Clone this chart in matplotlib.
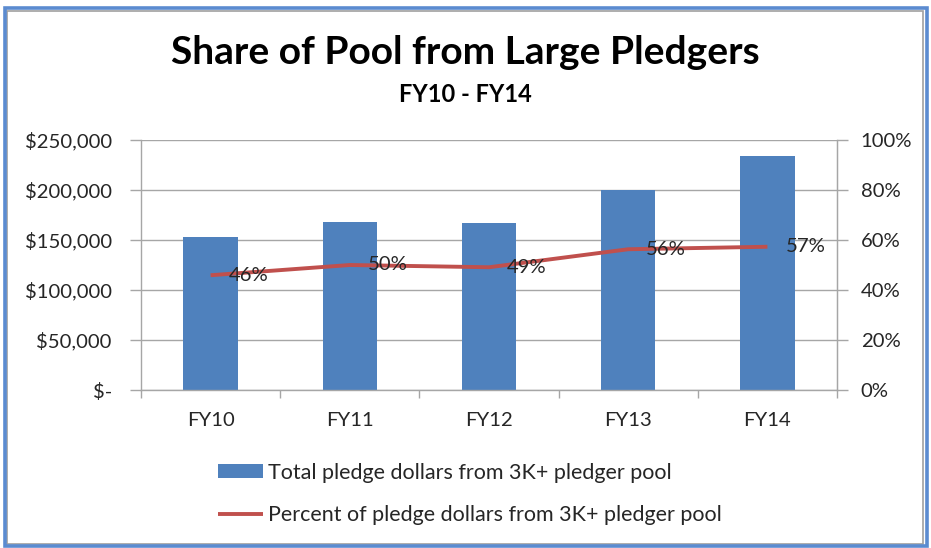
import matplotlib
matplotlib.use("Agg")
import matplotlib.pyplot as plt
from matplotlib.patches import Rectangle
from matplotlib.ticker import FuncFormatter, MultipleLocator

categories = ["FY10", "FY11", "FY12", "FY13", "FY14"]
total_dollars = [153300, 168300, 166700, 200000, 234300]
percent_share = [45.9, 50.0, 49.1, 56.3, 57.3]
percent_labels = ["46%", "50%", "49%", "56%", "57%"]
bar_label = "Total pledge dollars from 3K+ pledger pool"
line_label = "Percent of pledge dollars from 3K+ pledger pool"
title = "Share of Pool from Large Pledgers"
subtitle = "FY10 - FY14"

FONT = "Lato"
plt.rcParams['font.family'] = [FONT, 'DejaVu Sans']
TXT = "#262626"
GRID = "#a6a6a6"
BLUE = "#4F81BD"
RED = "#C0504D"
FS = 14.6
LFS = 15.5

fig = plt.figure(figsize=(9.31, 5.48), dpi=100)
fig.patch.set_facecolor("white")

# frame
fig.add_artist(Rectangle((7/931, 4/548), (923-7)/931, (540-7)/548, transform=fig.transFigure,
                         fill=False, edgecolor="#a0a0a0", linewidth=1.2))
fig.add_artist(Rectangle((4.5/931, 2.5/548), (926.5-4.5)/931, (543-5)/548, transform=fig.transFigure,
                         fill=False, edgecolor="#5b8bd0", linewidth=2.6))

ax = fig.add_axes([141/931, 1-390/548, (837-141)/931, (390-140)/548])
x = list(range(len(categories)))
ax.bar(x, total_dollars, width=0.39, color=BLUE, zorder=2, label=bar_label)
ax.set_xlim(-0.5, len(categories) - 0.5)
ax.set_ylim(0, 250000)
ax.yaxis.set_major_locator(MultipleLocator(50000))
ax.yaxis.set_major_formatter(FuncFormatter(lambda v, p: "$-" if v == 0 else "${:,.0f}".format(v)))
ax.set_xticks(x)
ax.set_xticklabels(categories)
ax.set_xticks([i - 0.5 for i in range(len(categories) + 1)], minor=True)
ax.tick_params(axis="x", which="major", length=0, pad=16, labelsize=FS, labelcolor=TXT)
ax.tick_params(axis="x", which="minor", length=6, width=1, color=GRID, direction="out")
ax.tick_params(axis="y", length=8, width=1, color=GRID, pad=13, labelsize=FS, labelcolor=TXT)
ax.grid(axis="y", color=GRID, linewidth=1, zorder=0)
ax.set_axisbelow(True)
ax.spines["top"].set_visible(False)
for s in ["left", "bottom", "right"]:
    ax.spines[s].set_color(GRID)
    ax.spines[s].set_linewidth(1)

ax2 = ax.twinx()
ax2.plot(x, percent_share, color=RED, linewidth=2.8, zorder=3, label=line_label, solid_capstyle="butt")
ax2.set_ylim(0, 100)
ax2.yaxis.set_major_locator(MultipleLocator(20))
ax2.yaxis.set_major_formatter(FuncFormatter(lambda v, p: "{:.0f}%".format(v)))
ax2.tick_params(axis="y", length=8, width=1, color=GRID, pad=9, labelsize=FS, labelcolor=TXT)
for s in ["top", "left", "bottom"]:
    ax2.spines[s].set_visible(False)
ax2.spines["right"].set_color(GRID)
for xi, yi, lab in zip(x, percent_share, percent_labels):
    ax2.annotate(lab, (xi, yi), xytext=(13, 0), textcoords="offset points",
                 ha="left", va="center", fontsize=FS, color=TXT, zorder=4)

fig.text(0.5, 1 - 52/548, title, ha="center", va="center", fontsize=28, fontweight="bold", color="black")
fig.text(0.5, 1 - 94/548, subtitle, ha="center", va="center", fontsize=17, fontweight="bold", color="black")

h1, l1 = ax.get_legend_handles_labels()
h2, l2 = ax2.get_legend_handles_labels()
leg = fig.legend(h1 + h2, l1 + l2, loc="upper left", bbox_to_anchor=(209/931, 1 - 454/548),
                 frameon=False, fontsize=LFS, handlelength=2.1, handleheight=0.65,
                 handletextpad=0.24, labelspacing=1.05, borderaxespad=0)
for t in leg.get_texts():
    t.set_color(TXT)

fig.savefig("out.png", dpi=100, facecolor="white")
